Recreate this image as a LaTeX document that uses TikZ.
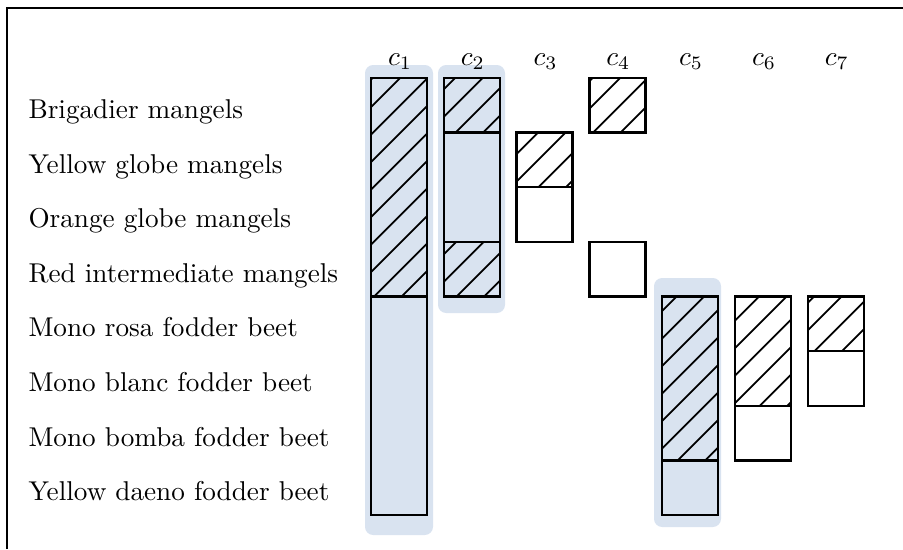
\documentclass[tikz,border=0pt]{standalone}
\definecolor{haloblue}{RGB}{217,227,240}
% diagonal hatching inside a rectangle (x1,y1)-(x2,y2)
\newcommand\hatchrect[4]{%
  \begin{scope}
    \clip (#1,#2) rectangle (#3,#4);
    \foreach \k in {0,...,52}
      \draw[hatchline] ({10.5+27.5*\k},0) -- ({10.5+27.5*\k-600},600);
  \end{scope}}
\begin{document}
\begin{tikzpicture}[x=0.3676pt, y=-0.3676pt,
  cell/.style={draw=black, line width=0.85pt},
  hatchline/.style={line width=0.65pt},
  halo/.style={fill=haloblue, rounded corners=3pt},
  rowlabel/.style={anchor=base west, inner sep=0pt},
  collabel/.style={anchor=base, inner sep=0pt},
  frame/.style={line width=0.9pt}]
\useasboundingbox (0,0) rectangle (903,549);

% frame
\draw[frame] (7,549) -- (7,8) -- (903,8);

% highlighted groups
\fill[halo] (365,65) rectangle (433,535);
\fill[halo] (438,65) rectangle (505,313);
\fill[halo] (654,278) rectangle (721,527);

% hatched parts
\hatchrect{371}{78}{427}{296.5}
\hatchrect{443.8}{78}{499.8}{132.6}
\hatchrect{443.8}{241.9}{499.8}{296.5}
\hatchrect{516.6}{132.6}{572.6}{187.3}
\hatchrect{589.4}{78}{645.4}{132.6}
\hatchrect{662.2}{296.5}{718.2}{460.4}
\hatchrect{735}{296.5}{791}{405.8}
\hatchrect{807.8}{296.5}{863.8}{351.1}

% column c1
\draw[cell] (371,78) rectangle (427,515);
\draw[cell] (371,296.5) -- (427,296.5);
% column c2
\draw[cell] (443.8,78) rectangle (499.8,296.5);
\draw[cell] (443.8,132.6) -- (499.8,132.6);
\draw[cell] (443.8,241.9) -- (499.8,241.9);
% column c3
\draw[cell] (516.6,132.6) rectangle (572.6,241.9);
\draw[cell] (516.6,187.3) -- (572.6,187.3);
% column c4
\draw[cell] (589.4,78) rectangle (645.4,132.6);
\draw[cell] (589.4,241.9) rectangle (645.4,296.5);
% column c5
\draw[cell] (662.2,296.5) rectangle (718.2,515);
\draw[cell] (662.2,460.4) -- (718.2,460.4);
% column c6
\draw[cell] (735,296.5) rectangle (791,460.4);
\draw[cell] (735,405.8) -- (791,405.8);
% column c7
\draw[cell] (807.8,296.5) rectangle (863.8,405.8);
\draw[cell] (807.8,351.1) -- (863.8,351.1);

% column labels
\node[collabel] (lc1) at (400,65) {$c_1$};
\node[collabel] (lc2) at (472.8,65) {$c_2$};
\node[collabel] (lc3) at (545.6,65) {$c_3$};
\node[collabel] (lc4) at (618.4,65) {$c_4$};
\node[collabel] (lc5) at (691.2,65) {$c_5$};
\node[collabel] (lc6) at (764,65) {$c_6$};
\node[collabel] (lc7) at (836.8,65) {$c_7$};

% row labels
\node[rowlabel] (r1) at (28,118.5) {Brigadier mangels};
\node[rowlabel] (r2) at (28,173) {Yellow globe mangels};
\node[rowlabel] (r3) at (28,227.7) {Orange globe mangels};
\node[rowlabel] (r4) at (28,282.3) {Red intermediate mangels};
\node[rowlabel] (r5) at (28,336.9) {Mono rosa fodder beet};
\node[rowlabel] (r6) at (28,391.5) {Mono blanc fodder beet};
\node[rowlabel] (r7) at (28,446.2) {Mono bomba fodder beet};
\node[rowlabel] (r8) at (28,500.8) {Yellow daeno fodder beet};
\end{tikzpicture}
\end{document}
